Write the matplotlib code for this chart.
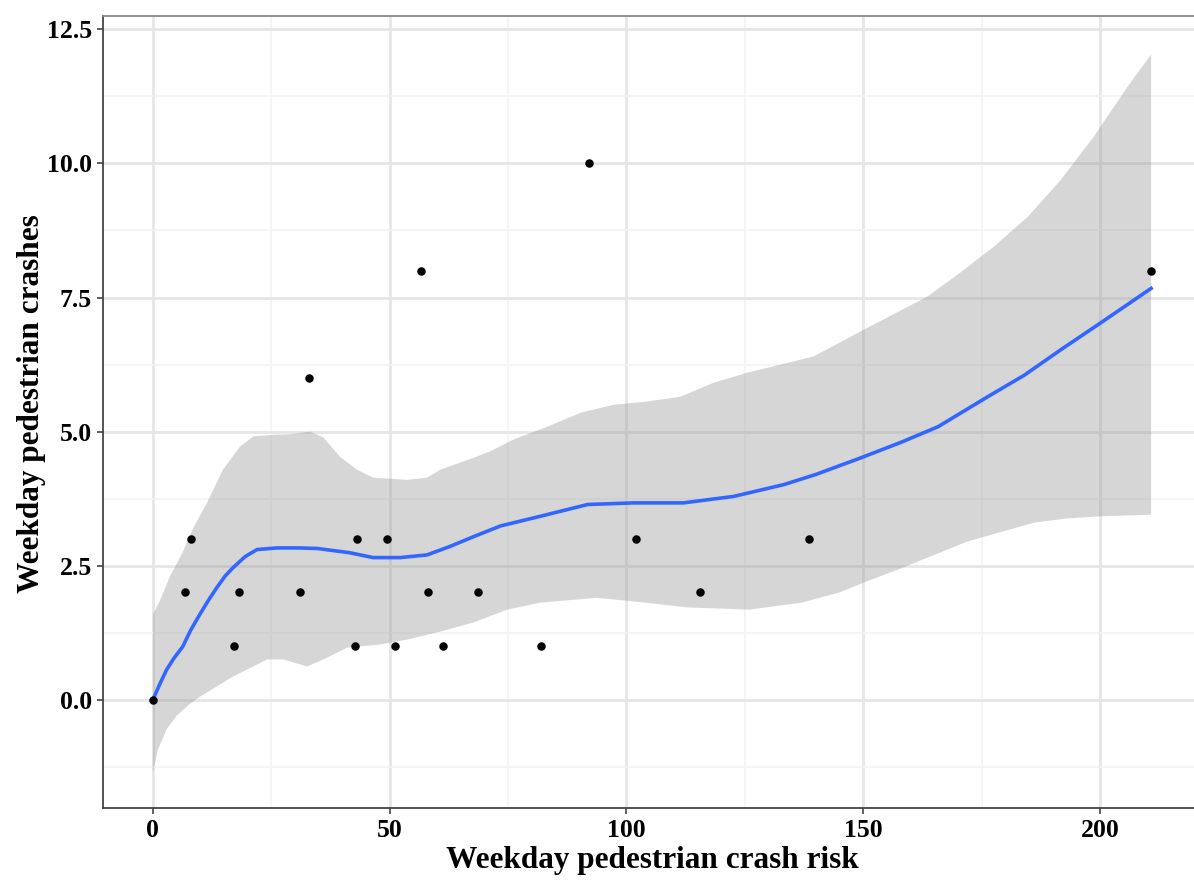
import matplotlib
matplotlib.use('Agg')
import matplotlib.pyplot as plt
from matplotlib.ticker import MultipleLocator

# observed points
crash_risk = [0, 6.8, 8.0, 17.1, 18.2, 31.1, 33.0, 42.7, 43.1, 49.5, 51.2,
              56.7, 58.1, 61.3, 68.7, 82.0, 92.0, 102.1, 115.6, 138.5, 210.8]
crashes = [0, 2, 3, 1, 2, 2, 6, 1, 3, 3, 1, 8, 2, 1, 2, 1, 10, 3, 2, 3, 8]

# smoothed fit
fit_x = [0, 1.5, 2.9, 4.5, 6.3, 8, 9.9, 11.7, 13.5, 15.2, 16.9, 19.5, 22, 26.2,
         31, 34.7, 41.6, 46.5, 52.2, 57.9, 62.8, 68, 73.4, 81.8, 91.8, 101.5,
         112, 122.6, 133.2, 140, 149.5, 158, 165.8, 176.3, 184, 191.8, 200.2,
         210.8]
fit_y = [0, 0.3, 0.56, 0.78, 0.99, 1.3, 1.59, 1.85, 2.09, 2.3, 2.46, 2.67, 2.8,
         2.83, 2.83, 2.82, 2.74, 2.65, 2.65, 2.7, 2.86, 3.05, 3.24, 3.42, 3.64,
         3.67, 3.67, 3.79, 4.01, 4.2, 4.51, 4.8, 5.09, 5.65, 6.05, 6.53, 7.03,
         7.67]

# confidence band
upper_x = [0, 1.5, 3.6, 6.3, 8.5, 11.3, 14.8, 18.4, 21.2, 25.4, 29, 33.2, 36,
           39.5, 43.1, 46.5, 53.7, 57.9, 60.7, 67.7, 71.2, 76.1, 83.3, 90.3,
           97.3, 104.4, 111.4, 118.4, 125.6, 132.6, 139.5, 149.5, 163.6,
           170.6, 177.6, 184.8, 191.8, 198.7, 205.9, 210.8]
upper_y = [1.59, 1.85, 2.3, 2.75, 3.2, 3.65, 4.29, 4.72, 4.91, 4.94, 4.95, 5.0,
           4.89, 4.53, 4.29, 4.14, 4.1, 4.14, 4.29, 4.51, 4.63, 4.85, 5.09,
           5.35, 5.5, 5.56, 5.65, 5.91, 6.1, 6.25, 6.4, 6.87, 7.52, 7.97, 8.45,
           9.01, 9.7, 10.5, 11.44, 12.03]
lower_x = [0, 1, 2.9, 5, 7.5, 10, 16.9, 24.1, 27.5, 32.6, 36, 41, 48, 53.7,
           60.7, 67.7, 74.8, 81.8, 93.7, 104, 113, 126, 137, 145, 150, 158,
           165, 172, 180, 186, 193, 200, 210.8]
lower_y = [-1.36, -0.95, -0.55, -0.3, -0.1, 0.06, 0.43, 0.75, 0.75, 0.62, 0.75,
           0.97, 1.03, 1.12, 1.27, 1.44, 1.68, 1.81, 1.9, 1.81, 1.72, 1.68,
           1.81, 2.0, 2.18, 2.45, 2.7, 2.95, 3.15, 3.3, 3.38, 3.42, 3.45]

plt.rcParams['font.family'] = ['Liberation Serif', 'DejaVu Serif']
plt.rcParams['font.weight'] = 'bold'

fig = plt.figure(figsize=(11.94, 8.84), dpi=100)
ax = fig.add_axes([103 / 1194, 76 / 884, 1098 / 1194, 792 / 884])

ax.xaxis.set_major_locator(MultipleLocator(50))
ax.xaxis.set_minor_locator(MultipleLocator(25))
ax.yaxis.set_major_locator(MultipleLocator(2.5))
ax.yaxis.set_minor_locator(MultipleLocator(1.25))
ax.grid(which='major', color='#E6E6E6', linewidth=2.0, zorder=0)
ax.grid(which='minor', color='#F4F4F4', linewidth=1.2, zorder=0)
ax.set_axisbelow(True)

band_x = upper_x + lower_x[::-1]
band_y = upper_y + lower_y[::-1]
ax.fill(band_x, band_y, color='#999999', alpha=0.4, linewidth=0, zorder=2)
ax.plot(fit_x, fit_y, color='#3366FF', linewidth=2.6, zorder=3)
ax.scatter(crash_risk, crashes, s=26, color='black', zorder=4)

ax.set_xlim(-10.54, 221.34)
ax.set_ylim(-2.02, 12.75)

for side in ['left', 'bottom']:
    ax.spines[side].set_color('#444444')
    ax.spines[side].set_linewidth(1.3)
ax.spines['top'].set_color('#888888')
ax.spines['top'].set_linewidth(1.3)
ax.spines['right'].set_visible(False)

ax.tick_params(which='major', length=4, width=1.1, color='#333333',
               labelsize=18.5, labelcolor='black', pad=4)
ax.tick_params(which='minor', length=0)
ax.set_xticks([0, 50, 100, 150, 200])
ax.set_yticks([0.0, 2.5, 5.0, 7.5, 10.0, 12.5])
ax.set_yticklabels(['0.0', '2.5', '5.0', '7.5', '10.0', '12.5'])

ax.set_xlabel('Weekday pedestrian crash risk', fontsize=22.5, fontweight='bold', labelpad=3)
ax.set_ylabel('Weekday pedestrian crashes', fontsize=22.5, fontweight='bold')
ax.yaxis.set_label_coords(-0.052, 0.51)

fig.savefig('out.png', dpi=100)
